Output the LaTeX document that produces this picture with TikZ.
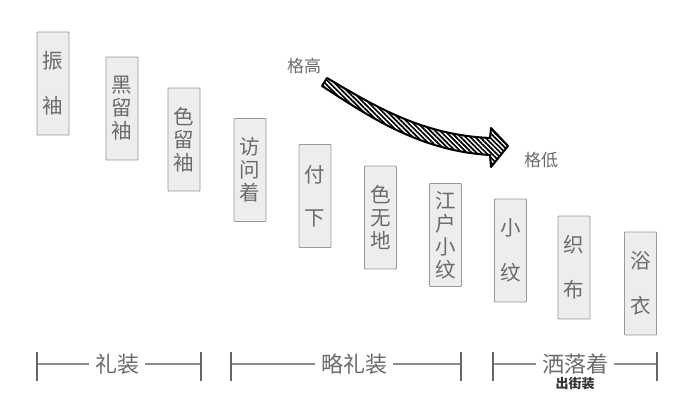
\documentclass[tikz,border=0pt]{standalone}
\usepackage{fontspec}
\newfontfamily\cjk{Noto Sans CJK SC}
\usetikzlibrary{patterns.meta}
\colorlet{boxfill}{black!7}
\colorlet{boxline}{black!40}
\colorlet{inkgray}{black!58}
\colorlet{rulegray}{black!45}

\begin{document}
\begin{tikzpicture}[x=1pt,y=-1pt,
        every node/.style={font=\cjk, text=inkgray},
        kimono/.style={draw=boxline, fill=boxfill, line width=0.8pt,
        rounded corners=0.8pt, minimum width=32pt, minimum height=103pt,
        inner sep=0pt, align=center, font=\cjk\fontsize{20.5}{23}\selectfont},
        group/.style={inner sep=6pt, font=\cjk\fontsize{22}{24}\selectfont},
        rank/.style={font=\cjk\fontsize{17}{18}\selectfont},
        rule/.style={draw=rulegray, line width=1.3pt},
        tick/.style={draw=black!60, line width=1.4pt}
        ]
    \fill[white] (0,0) rectangle (680,412);
    \useasboundingbox (0,0) rectangle (680,412);
            \node[kimono] (k_1) at (53, 83.5) {振\\[22pt]袖};
            \node[kimono] (k_2) at (122, 108.5) {黑\\留\\袖};
            \node[kimono] (k_3) at (184, 139.5) {色\\留\\袖};
            \node[kimono] (k_4) at (250, 170) {访\\问\\着};
            \node[kimono] (k_5) at (315, 196) {付\\[20pt]下};
            \node[kimono] (k_6) at (380.5, 217.5) {色\\无\\地};
            \node[kimono] (k_7) at (445.5, 235) {江\\户\\小\\纹};
            \node[kimono] (k_8) at (510.5, 250.5) {小\\[22pt]纹};
            \node[kimono] (k_9) at (574, 267.5) {织\\[22pt]布};
            \node[kimono] (k_10) at (640.5, 283.5) {浴\\[22pt]衣};
    \node[rank] (r_hi) at (304, 66) {格高};
    \node[rank] (r_lo) at (541, 160) {格低};
    \draw [line width=2pt, line join=round,
        pattern={Lines[angle=-45,distance=3.4pt,line width=1.7pt]}]
        (327,78) .. controls (373,105) and (421,135) .. (490,138)
        -- (491,128) -- (508,146) -- (491,167) -- (490,155)
        .. controls (419,151) and (367,115) .. (322,86) -- cycle;
            \coordinate (l_a) at (37, 364);
            \coordinate (r_a) at (201, 364);
            \coordinate (l_b) at (231, 364);
            \coordinate (r_b) at (461, 364);
            \coordinate (l_c) at (493, 364);
            \coordinate (r_c) at (657, 364);
            \node[group] (g_a) at (117, 364) {礼装};
            \node[group] (g_b) at (354, 364) {略礼装};
            \node[group] (g_c) at (575, 364) {洒落着};
            \node[font=\cjk\bfseries\fontsize{13}{15}\selectfont, text=black!80,
                inner sep=1pt] (g_c2) at (575, 384) {出街装};
    \draw [rule] (l_a) -- (g_a);
    \draw [rule] (g_a) -- (r_a);
    \draw [rule] (l_b) -- (g_b);
    \draw [rule] (g_b) -- (r_b);
    \draw [rule] (l_c) -- (g_c);
    \draw [rule] (g_c) -- (r_c);
    \draw [tick] (l_a)++(0,-12) -- ++(0,29);
    \draw [tick] (r_a)++(0,-12) -- ++(0,29);
    \draw [tick] (l_b)++(0,-12) -- ++(0,29);
    \draw [tick] (r_b)++(0,-12) -- ++(0,29);
    \draw [tick] (l_c)++(0,-12) -- ++(0,29);
    \draw [tick] (r_c)++(0,-12) -- ++(0,29);
\end{tikzpicture}
\end{document}
